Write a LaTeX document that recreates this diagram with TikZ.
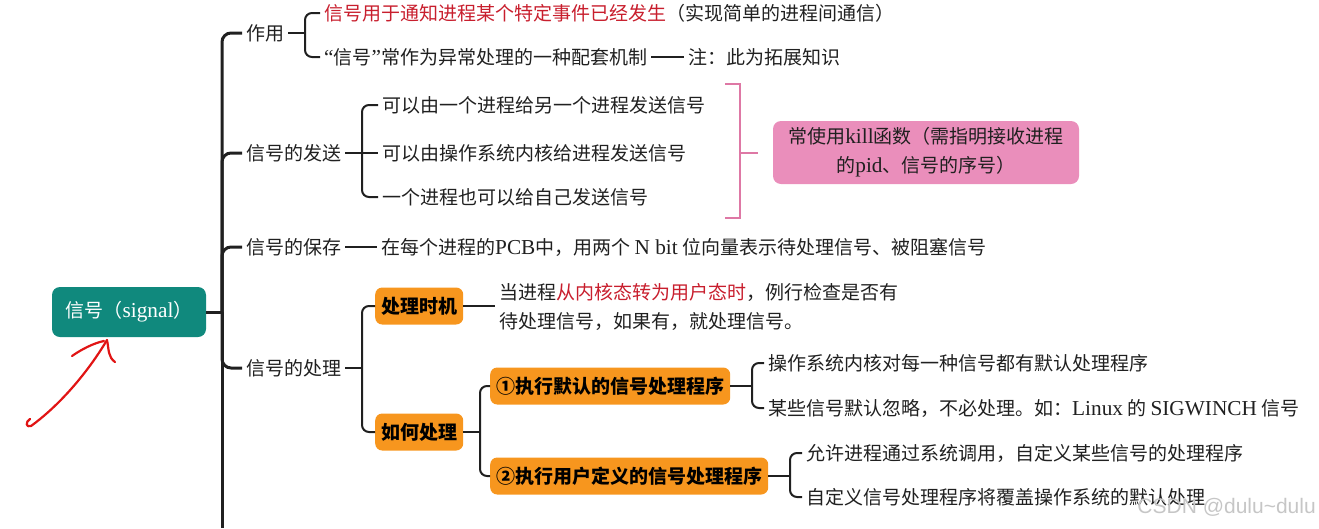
\documentclass[tikz,border=0pt]{standalone}
\usepackage{fontspec}
\setmainfont{Noto Sans CJK SC}
\newfontfamily\latf[Scale=1.12]{Liberation Serif}
\newfontfamily\wmf{Liberation Sans}
\newcommand{\lat}[1]{{\latf #1}}
\definecolor{ink}{RGB}{32,32,32}
\definecolor{teal}{RGB}{16,137,125}
\definecolor{orangebox}{RGB}{247,150,30}
\definecolor{pinkfill}{RGB}{234,142,187}
\definecolor{pinkline}{RGB}{222,120,165}
\definecolor{redtxt}{RGB}{200,30,45}
\definecolor{penred}{RGB}{225,20,20}
\begin{document}
\begin{tikzpicture}[x=1pt,y=-1pt,
  txt/.style={anchor=west, inner sep=4pt, text=ink, font=\fontsize{19}{29}\selectfont},
  conn/.style={draw=ink, line width=2pt, rounded corners=7pt},
  trunk/.style={draw=ink, line width=3pt, rounded corners=9pt},
  obox/.style={fill=orangebox, rounded corners=7pt, anchor=west, inner xsep=6pt, inner ysep=2pt, minimum height=37pt, font=\fontsize{19}{22}\selectfont\bfseries, text=black},
  pinkl/.style={draw=pinkline, line width=2pt},
  pen/.style={draw=penred, line width=2.2pt, line cap=round, line join=round}
]
\useasboundingbox (0,0) rectangle (1319,528);

% root
\node[fill=teal, rounded corners=8pt, minimum width=154pt, minimum height=50pt, text=white, font=\fontsize{19}{22}\selectfont] (root) at (129,312) {信号（\lat{signal}）};
\coordinate (rj) at (222,312);
\coordinate (tb) at (222,528);

% level-1 branches
\node[txt] (b1) at (242,33) {作用};
\node[txt] (b2) at (242,153) {信号的发送};
\node[txt] (b3) at (242,247) {信号的保存};
\node[txt] (b4) at (242,368) {信号的处理};

\draw[trunk] (root.east) -- (rj);
\draw[trunk] (rj) -- (tb);
\draw[trunk] (rj) |- (b1.west);
\draw[trunk] (rj) |- (b2.west);
\draw[trunk] (rj) |- (b3.west);
\draw[trunk] (rj) |- (b4.west);

% 作用
\node[txt] (a1) at (320,13) {\textcolor{redtxt}{信号用于通知进程某个特定事件已经发生}（实现简单的进程间通信）};
\node[txt] (a2) at (320,57) {\lat{“}信号\lat{”}常作为异常处理的一种配套机制};
\node[txt] (a3) at (684,57) {注：此为拓展知识};
\coordinate (j1) at (305,0);
\draw[conn] (b1.east) -- (b1.east -| j1);
\draw[conn] (a1.west) -| (j1 |- b1.east) |- (a2.west);
\draw[conn] (a2.east) -- (a3.west);

% 信号的发送
\node[txt] (s1) at (378,105) {可以由一个进程给另一个进程发送信号};
\node[txt] (s2) at (378,153) {可以由操作系统内核给进程发送信号};
\node[txt] (s3) at (378,197) {一个进程也可以给自己发送信号};
\coordinate (j2) at (362,0);
\draw[conn] (b2.east) -- (s2.west);
\draw[conn] (s1.west) -| (j2 |- s2.west) |- (s3.west);

% pink summary
\node[fill=pinkfill, rounded corners=8pt, minimum width=306pt, minimum height=63pt, align=center, text=ink, font=\fontsize{19}{29}\selectfont] (kill) at (926,152.5) {常使用\lat{kill}函数（需指明接收进程\\的\lat{pid}、信号的序号）};
\coordinate (pk1) at (725,84);
\coordinate (pk2) at (725,218);
\coordinate (pkm) at (740,152.5);
\draw[pinkl] (pk1) -- (pk1 -| pkm) -- (pk2 -| pkm) -- (pk2);
\draw[pinkl, shorten >=15pt] (pkm) -- (kill.west);

% 信号的保存
\node[txt] (k1) at (377,247) {在每个进程的\lat{PCB}中，用两个 \lat{N bit} 位向量表示待处理信号、被阻塞信号};
\draw[conn] (b3.east) -- (k1.west);

% 信号的处理
\node[obox] (p1) at (375,306) {处理时机};
\node[obox] (p2) at (375,432) {如何处理};
\coordinate (j4) at (362,0);
\draw[conn] (b4.east) -- (b4.east -| j4);
\draw[conn] (p1.west) -| (j4 |- b4.east) |- (p2.west);

\node[txt, align=left] (t1) at (495,307) {当进程\textcolor{redtxt}{从内核态转为用户态时}，例行检查是否有\\待处理信号，如果有，就处理信号。};
\draw[conn] (p1.east) -- (p1.east -| t1.west);

\node[obox] (d1) at (490,386) {①执行默认的信号处理程序};
\node[obox] (d2) at (490,476) {②执行用户定义的信号处理程序};
\coordinate (j5) at (480,0);
\draw[conn] (p2.east) -- (p2.east -| j5);
\draw[conn] (d1.west) -| (j5 |- p2.east) |- (d2.west);

\node[txt] (e1) at (764,363) {操作系统内核对每一种信号都有默认处理程序};
\node[txt] (e2) at (764,408) {某些信号默认忽略，不必处理。如：\lat{Linux} 的 \lat{SIGWINCH} 信号};
\coordinate (j6) at (752,0);
\draw[conn] (d1.east) -- (d1.east -| j6);
\draw[conn] (e1.west) -| (j6 |- d1.east) |- (e2.west);

\node[txt] (f1) at (802,453) {允许进程通过系统调用，自定义某些信号的处理程序};
\node[txt] (f2) at (802,497) {自定义信号处理程序将覆盖操作系统的默认处理};
\coordinate (j7) at (790,0);
\draw[conn] (d2.east) -- (d2.east -| j7);
\draw[conn] (f1.west) -| (j7 |- d2.east) |- (f2.west);

% watermark
\node[anchor=east, inner sep=0pt, text=gray!45, font=\wmf\fontsize{21}{21}\selectfont] (wm) at (1316,507) {CSDN @dulu\textasciitilde dulu};

% hand-drawn red arrow
\coordinate (h0) at (30,419);
\coordinate (h1) at (31,426);
\coordinate (h2) at (107,340);
\coordinate (w1) at (72,356);
\coordinate (w2) at (115,362);
\draw[pen] (h0) .. controls (25,422) and (26,428) .. (h1) .. controls (60,405) and (88,372) .. (h2);
\draw[pen] (w1) .. controls (82,349) and (94,343) .. (104,341);
\draw[pen] (h2) .. controls (109,350) and (108,357) .. (w2);
\end{tikzpicture}
\end{document}
